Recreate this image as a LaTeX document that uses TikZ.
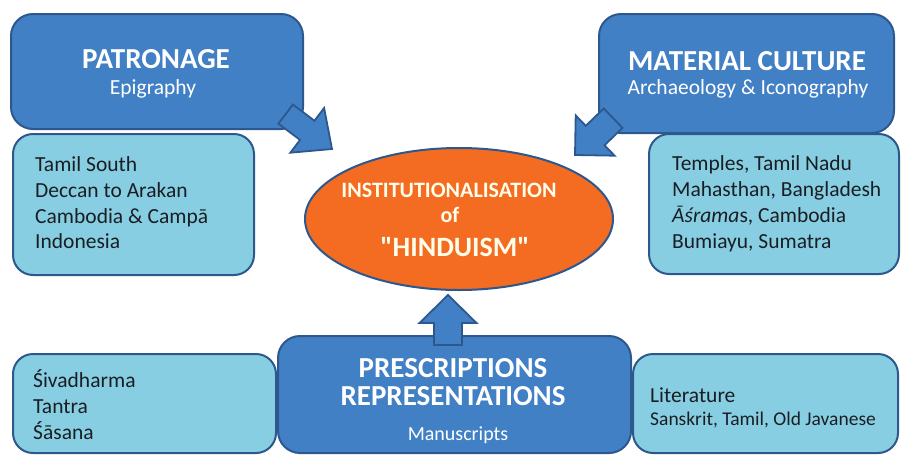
\documentclass[tikz,border=0pt]{standalone}
\usepackage{fontspec}
\setmainfont{Carlito}[Ligatures=TeXOff]
\usetikzlibrary{shapes.geometric}
\definecolor{dblue}{RGB}{66,128,198}
\definecolor{dborder}{RGB}{44,88,142}
\definecolor{lblue}{RGB}{136,206,226}
\definecolor{orng}{RGB}{243,108,34}
\definecolor{txtdark}{RGB}{25,30,35}
\tikzset{
  darkbox/.style={draw=dborder, line width=2pt, fill=dblue, rounded corners=22pt, anchor=north west, inner sep=0pt},
  lightbox/.style={draw=dborder, line width=2pt, fill=lblue, rounded corners=20pt, anchor=north west, inner sep=0pt},
  blockarr/.style={draw=dborder, line width=1.8pt, fill=dblue, line join=miter},
  title/.style={text=white, anchor=base, inner sep=0pt, font=\bfseries\fontsize{29}{32}\selectfont},
  subtitle/.style={text=white, anchor=base, inner sep=0pt, font=\fontsize{21.5}{25}\selectfont},
  item/.style={text=txtdark, anchor=base west, inner sep=0pt, font=\fontsize{21.5}{26}\selectfont},
  ovaltext/.style={text=white!92!yellow, anchor=base, inner sep=0pt, font=\bfseries\fontsize{22}{26}\selectfont},
}
\newcommand\blockarrow[7]{%
  \begin{scope}[shift={(#1,#2)}, rotate=#3]
    \draw[blockarr] (0,0) -- (-#7,#6) -- (-#7,#5) -- (-#4,#5) -- (-#4,-#5) -- (-#7,-#5) -- (-#7,-#6) -- cycle;
  \end{scope}}
\begin{document}
\begin{tikzpicture}[x=1pt,y=-1pt]
\useasboundingbox (0,0) rectangle (901,455);
\fill[white] (0,0) rectangle (901,455);
% boxes
\node[darkbox, minimum width=292pt, minimum height=115pt] (pat) at (10,13) {};
\node[lightbox, minimum width=241pt, minimum height=141pt] (patl) at (12,133) {};
\node[darkbox, minimum width=295pt, minimum height=119pt] (mat) at (598,13) {};
\node[lightbox, minimum width=250pt, minimum height=140pt] (matl) at (648,133) {};
\node[lightbox, minimum width=263pt, minimum height=99pt] (prel) at (12,353) {};
\node[darkbox, minimum width=353pt, minimum height=117pt] (pre) at (277,335) {};
\node[lightbox, minimum width=265pt, minimum height=99pt] (prer) at (632,353) {};
\node[ellipse, draw=dborder, line width=2pt, fill=orng, minimum width=308pt, minimum height=142pt, inner sep=0pt] (inst) at (459,219) {};
% block arrows
\blockarrow{332}{149}{-37}{58}{12}{28}{31}
\blockarrow{575}{155}{-136}{53}{13.5}{28}{28}
\blockarrow{448}{295}{90}{50}{14}{28.5}{28}
% texts
\node[title] (t1) at (156,68) {PATRONAGE};
\node[subtitle] (s1) at (153,94) {Epigraphy};
\node[title] (t2) at (747,70) {MATERIAL CULTURE};
\node[subtitle] (s2) at (748,94) {Archaeology \& Iconography};
\node[title] (t3) at (453,377) {PRESCRIPTIONS};
\node[title] (t4) at (453,405) {REPRESENTATIONS};
\node[subtitle, font=\fontsize{20}{24}\selectfont] (s3) at (458,440) {Manuscripts};
\node[ovaltext] (o1) at (449,197) {INSTITUTIONALISATION};
\node[ovaltext] (o2) at (450,222) {of};
\node[ovaltext, font=\bfseries\fontsize{28}{30}\selectfont] (o3) at (455,256) {"HINDUISM"};
\node[item] (a1) at (35,171) {Tamil South};
\node[item] (a2) at (35,197) {Deccan to Arakan};
\node[item] (a3) at (35,223) {Cambodia \& Campā};
\node[item] (a4) at (35,248) {Indonesia};
\node[item] (b1) at (672,170) {Temples, Tamil Nadu};
\node[item] (b2) at (672,196) {Mahasthan, Bangladesh};
\node[item] (b3) at (672,222) {\textit{Āśrama}s, Cambodia};
\node[item] (b4) at (672,248) {Bumiayu, Sumatra};
\node[item] (c1) at (33,387) {Śivadharma};
\node[item] (c2) at (33,413) {Tantra};
\node[item] (c3) at (33,439) {Śāsana};
\node[item] (d1) at (650,402) {Literature};
\node[item, font=\fontsize{19.5}{23}\selectfont] (d2) at (650,425) {Sanskrit, Tamil, Old Javanese};
\end{tikzpicture}
\end{document}
